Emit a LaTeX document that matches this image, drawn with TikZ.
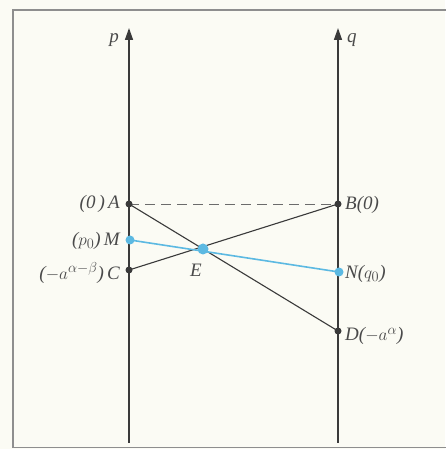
\documentclass[tikz,border=0pt]{standalone}
\usepackage{fontspec}
\setmainfont{Liberation Serif}
\usetikzlibrary{arrows.meta}
\definecolor{papier}{HTML}{FBFBF4}
\definecolor{strich}{HTML}{3A3A3A}
\definecolor{schrift}{HTML}{4A4A4A}
\definecolor{rahmen}{HTML}{8E8E8E}
\definecolor{hellblau}{HTML}{5CB9E2}
\newcommand{\bez}{\fontsize{19}{22}\selectfont\itshape}
\tikzset{achse/.style={strich,line width=1.5pt,-{Triangle[length=12pt,width=8pt]}},
  gerade/.style={strich,line width=1.1pt},
  strichlinie/.style={strich!75,line width=0.9pt,dash pattern=on 10pt off 6pt},
  blaulinie/.style={hellblau,line width=1.6pt},
  punkt/.style={circle,fill=strich,inner sep=0,minimum size=7pt},
  bpunkt/.style={circle,fill=hellblau,inner sep=0,minimum size=9pt},
  marke/.style={inner sep=1pt,text=schrift,font=\bez}}

\begin{document}
\begin{tikzpicture}[x=1pt,y=1pt]
\useasboundingbox (0,0) rectangle (445,449);
\fill[papier] (0,0) rectangle (445,449);
% Rahmen, rechts offen (laeuft aus dem Bild)
\draw[rahmen,line width=1.2pt] (450,439) -- (13,439) -- (13,1.5) -- (450,1.5);
% zwei Achsen p und q
\coordinate (pfuss) at (129,6);
\coordinate (pkopf) at (129,421);
\coordinate (qfuss) at (338,6);
\coordinate (qkopf) at (338,421);
\draw[achse] (pfuss) -- (pkopf);
\draw[achse] (qfuss) -- (qkopf);
\node[marke,anchor=east] (plab) at (120,409) {p};
\node[marke,anchor=west] (qlab) at (346,409) {q};
% Punkte auf den Achsen
\coordinate (A) at (129,245);
\coordinate (B) at (338,245);
\coordinate (M) at (130,209);
\coordinate (C) at (129,179);
\coordinate (E) at (203,200);
\coordinate (N) at (339,177);
\coordinate (D) at (338,118);
\draw[strichlinie] (A) -- (B);
\draw[gerade] (A) -- (D);
\draw[gerade] (C) -- (B);
\draw[blaulinie] (M) -- (N);
\foreach \pt in {A,B,C,D} \node[punkt] at (\pt) {};
\foreach \pt in {M,N} \node[bpunkt] at (\pt) {};
\node[bpunkt,minimum size=11pt] at (E) {};
% Beschriftung
\node[marke,anchor=east] (Alab) at (121,245) {(0\,)\,A};
\node[marke,anchor=east] (Mlab) at (121,208) {($p_0$)\,M};
\node[marke,anchor=east] (Clab) at (121,176) {($-a^{\alpha-\beta}$)\,C};
\node[marke] (Elab) at (196,179) {E};
\node[marke,anchor=west] (Blab) at (344,244) {B(0)};
\node[marke,anchor=west] (Nlab) at (344,175) {N($q_0$)};
\node[marke,anchor=west] (Dlab) at (344,113) {D($-a^{\alpha}$)};
\end{tikzpicture}
\end{document}
